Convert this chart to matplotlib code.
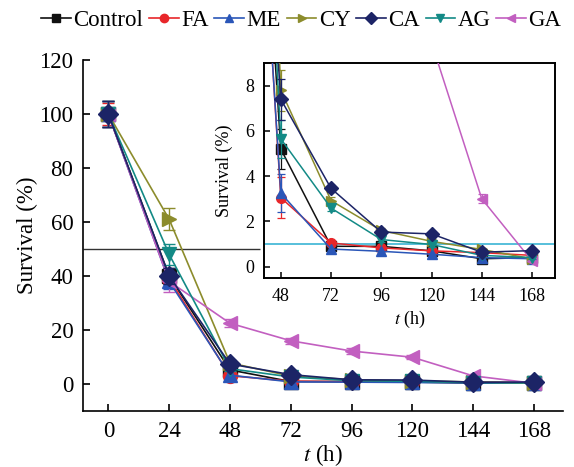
import matplotlib
matplotlib.use("Agg")
import matplotlib.pyplot as plt
from matplotlib.lines import Line2D

plt.rcParams['font.family'] = ['Liberation Serif', 'DejaVu Serif']
plt.rcParams['mathtext.fontset'] = 'stix'

times = [0, 24, 48, 72, 96, 120, 144, 168]
names = ["Control", "FA", "ME", "CY", "CA", "AG", "GA"]
colors = ["#111111", "#e8262a", "#2a56b8", "#8c8c2c", "#1c2466", "#138a86", "#c25fc0"]
markers = ["s", "o", "^", ">", "D", "v", "<"]

control = [100, 40, 5.2, 0.9, 0.9, 0.7, 0.35, 0.4]
fa = [100, 39, 3.05, 1.05, 0.83, 0.7, 0.62, 0.5]
me = [100, 38, 3.25, 0.78, 0.68, 0.55, 0.4, 0.35]
cy = [100, 61, 7.8, 2.92, 1.6, 1.12, 0.76, 0.35]
ca = [100, 40, 7.4, 3.46, 1.53, 1.45, 0.64, 0.71]
ag = [100, 48, 5.65, 2.59, 1.2, 0.98, 0.5, 0.4]
ga = [100, 38, 22.5, 16, 12.2, 9.9, 3.0, 0.25]

control_err = [5, 3, 0.9, 0.1, 0.1, 0.1, 0.05, 0.05]
fa_err = [4, 3, 0.9, 0.1, 0.1, 0.1, 0.05, 0.05]
me_err = [5, 3, 0.85, 0.1, 0.1, 0.1, 0.05, 0.05]
cy_err = [5, 4, 0.9, 0.15, 0.1, 0.1, 0.05, 0.05]
ca_err = [5, 3, 0.9, 0.15, 0.1, 0.1, 0.05, 0.05]
ag_err = [5, 4, 0.85, 0.15, 0.1, 0.1, 0.05, 0.05]
ga_err = [5, 4, 1.5, 1.2, 1.0, 0.8, 0.2, 0.1]

series = [control, fa, me, cy, ca, ag, ga]
errors = [control_err, fa_err, me_err, cy_err, ca_err, ag_err, ga_err]
zorders = [3, 3, 3, 3, 5, 4, 3]

main_ticks = [0, 20, 40, 60, 80, 100, 120]
inset_yticks = [0, 2, 4, 6, 8]
inset_xticks = [48, 72, 96, 120, 144, 168]

fig = plt.figure(figsize=(5.74, 4.67), dpi=100)
ax = fig.add_axes([0.1446, 0.12, 0.8364, 0.7515])

for y, e, c, m, z in zip(series, errors, colors, markers, zorders):
    ax.errorbar(times, y, yerr=e, color=c, marker=m, markersize=10, lw=1.2,
                capsize=4, elinewidth=1, capthick=1, zorder=z)
ax.hlines(50, -10, 60, color='#333333', lw=1.0, zorder=1)

ax.set_xlim(-10, 179.5)
ax.set_ylim(-10, 120)
ax.set_xticks(times)
ax.set_yticks(main_ticks)
ax.spines['top'].set_visible(False)
ax.spines['right'].set_visible(False)
for s in ('left', 'bottom'):
    ax.spines[s].set_linewidth(1.2)
ax.tick_params(direction='in', labelsize=16.5, length=5, width=1.2, pad=7)
ax.set_xlabel(r'$t$ (h)', fontsize=16.5, labelpad=0)
ax.set_ylabel('Survival (%)', fontsize=16.5, labelpad=1)

ins = fig.add_axes([0.46, 0.4047, 0.507, 0.4604])
for y, e, c, m, z in zip(series, errors, colors, markers, zorders):
    ins.errorbar(times, y, yerr=e, color=c, marker=m, markersize=7, lw=1.1,
                 capsize=3, elinewidth=0.9, capthick=0.9, zorder=z)
ins.axhline(1, color='#3ab4d4', lw=1.2, zorder=1)
ins.set_xlim(40, 179)
ins.set_ylim(-0.5, 9)
ins.set_xticks(inset_xticks)
ins.set_yticks(inset_yticks)
for s in ins.spines.values():
    s.set_linewidth(1.4)
ins.tick_params(direction='in', labelsize=13, length=4, width=1.1, pad=7)
ins.set_xlabel(r'$t$ (h)', fontsize=13, labelpad=3)
ins.set_ylabel('Survival (%)', fontsize=13, labelpad=9)

handles = [Line2D([], [], color=c, marker=m, markersize=6, lw=1.2)
           for c, m in zip(colors, markers)]
fig.legend(handles, names, loc='center', bbox_to_anchor=(0.525, 0.957), ncol=7,
           frameon=False, fontsize=16.5, handlelength=1.3, handletextpad=0.1,
           columnspacing=0.25, borderaxespad=0, borderpad=0)

fig.savefig("out.png", dpi=100)
